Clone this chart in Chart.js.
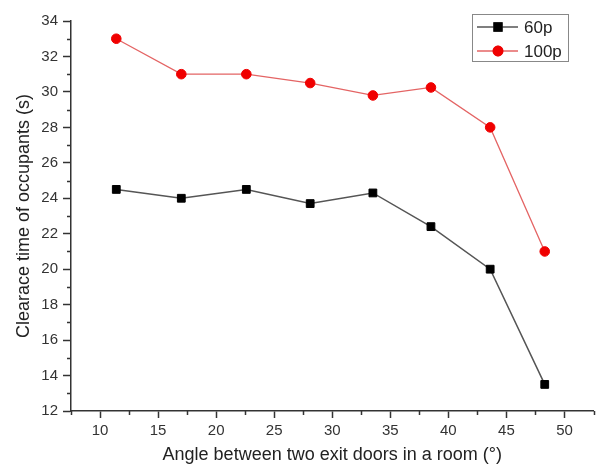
<!DOCTYPE html>
<html>
<head>
<meta charset="utf-8">
<script src="https://cdn.jsdelivr.net/npm/chart.js@4.4.1/dist/chart.umd.min.js"></script>
<style>
  html, body { margin: 0; padding: 0; background: #fff; }
  #wrap { width: 600px; height: 468px; }
</style>
</head>
<body>
<div id="wrap"><canvas id="chart" width="600" height="468"></canvas></div>
<script>
// ===== Data =====
const angles   = [11.4, 17.0, 22.6, 28.1, 33.5, 38.5, 43.6, 48.3];
const time60p  = [24.5, 24.0, 24.5, 23.7, 24.3, 22.4, 20.0, 13.5];
const time100p = [33.0, 31.0, 31.0, 30.5, 29.8, 30.25, 28.0, 21.0];
const seriesNames = ['60p', '100p'];
const xTicks = [10, 15, 20, 25, 30, 35, 40, 45, 50];
const yTicks = [12, 14, 16, 18, 20, 22, 24, 26, 28, 30, 32, 34];

const FONT = "'Liberation Sans', Arial, sans-serif";
const AXIS = '#333';

const toPts = ys => ys.map((y, i) => ({ x: angles[i], y }));

// ===== Minor ticks (half step, drawn off the axes' own scales) =====
const minorTicks = {
  id: 'minorTicks',
  afterDraw(chart) {
    const { ctx, scales: { x, y } } = chart;
    ctx.save();
    ctx.strokeStyle = AXIS;
    ctx.lineWidth = 1.5;
    ctx.beginPath();
    for (let i = 0; i < xTicks.length + 1; i++) {
      const v = xTicks[0] - 2.5 + i * 5;
      const px = Math.round(x.getPixelForValue(v)) + 0.5;
      ctx.moveTo(px, y.bottom);
      ctx.lineTo(px, y.bottom + 4);
    }
    for (let i = 0; i < yTicks.length - 1; i++) {
      const v = yTicks[i] + 1;
      const py = Math.round(y.getPixelForValue(v)) + 0.5;
      ctx.moveTo(x.left, py);
      ctx.lineTo(x.left - 4, py);
    }
    ctx.stroke();
    ctx.restore();
  }
};

// ===== Boxed legend in the top right corner =====
const boxLegend = {
  id: 'boxLegend',
  afterDraw(chart) {
    const ctx = chart.ctx;
    const bx = 472, by = 14, bw = 96, bh = 47;
    ctx.save();
    ctx.fillStyle = '#fff';
    ctx.fillRect(bx, by, bw, bh);
    ctx.strokeStyle = '#888';
    ctx.lineWidth = 1;
    ctx.strokeRect(bx + 0.5, by + 0.5, bw, bh);
    chart.data.datasets.forEach((ds, i) => {
      const cy = by + 13 + i * 24;
      ctx.strokeStyle = ds.borderColor;
      ctx.lineWidth = ds.borderWidth;
      ctx.beginPath();
      ctx.moveTo(bx + 5, cy);
      ctx.lineTo(bx + 46, cy);
      ctx.stroke();
      Chart.helpers.drawPoint(ctx, {
        pointStyle: ds.pointStyle,
        radius: ds.pointRadius,
        borderWidth: ds.pointBorderWidth
      }, bx + 26, cy);
      ctx.fillStyle = ds.pointBackgroundColor;
      ctx.strokeStyle = ds.pointBorderColor;
      ctx.fill();
      ctx.stroke();
      ctx.fillStyle = '#222';
      ctx.font = '17px ' + FONT;
      ctx.textBaseline = 'middle';
      ctx.fillText(ds.label, bx + 52, cy + 1);
    });
    ctx.restore();
  }
};

new Chart(document.getElementById('chart'), {
  type: 'line',
  data: {
    datasets: [
      {
        label: seriesNames[0],
        data: toPts(time60p),
        borderColor: '#555',
        borderWidth: 1.5,
        pointStyle: 'rect',
        pointRadius: 5.5,
        pointBorderWidth: 1,
        pointBackgroundColor: '#000',
        pointBorderColor: '#000',
        tension: 0
      },
      {
        label: seriesNames[1],
        data: toPts(time100p),
        borderColor: '#e46464',
        borderWidth: 1.3,
        pointStyle: 'circle',
        pointRadius: 4.8,
        pointBorderWidth: 1,
        pointBackgroundColor: '#f00000',
        pointBorderColor: '#f00000',
        tension: 0
      }
    ]
  },
  options: {
    responsive: false,
    animation: false,
    devicePixelRatio: 1,
    clip: false,
    layout: { padding: { top: 21, right: 2, left: 0, bottom: 0 } },
    plugins: { legend: { display: false }, tooltip: { enabled: false } },
    scales: {
      x: {
        type: 'linear',
        min: 7.5,
        max: 52.5,
        afterBuildTicks: s => { s.ticks = xTicks.map(v => ({ value: v })); },
        afterFit: s => { s.height = 57; },
        grid: { drawOnChartArea: false, tickLength: 7, tickColor: AXIS, tickWidth: 1.5 },
        border: { color: AXIS, width: 1.5 },
        ticks: { color: '#333', padding: 4, font: { family: FONT, size: 15 } },
        title: {
          display: true,
          text: 'Angle between two exit doors in a room (°)',
          color: '#222',
          font: { family: FONT, size: 18 },
          padding: { top: 0, bottom: 2 }
        }
      },
      y: {
        min: 12,
        max: 34,
        afterBuildTicks: s => { s.ticks = yTicks.map(v => ({ value: v })); },
        afterFit: s => { s.width = 71; },
        grid: { drawOnChartArea: false, tickLength: 8, tickColor: AXIS, tickWidth: 1.5 },
        border: { color: AXIS, width: 1.5 },
        ticks: { color: '#333', padding: 5, font: { family: FONT, size: 15 } },
        title: {
          display: true,
          text: 'Clearace time of occupants (s)',
          color: '#222',
          font: { family: FONT, size: 18 },
          padding: { top: 13, bottom: 0 }
        }
      }
    }
  },
  plugins: [minorTicks, boxLegend]
});
</script>
</body>
</html>
